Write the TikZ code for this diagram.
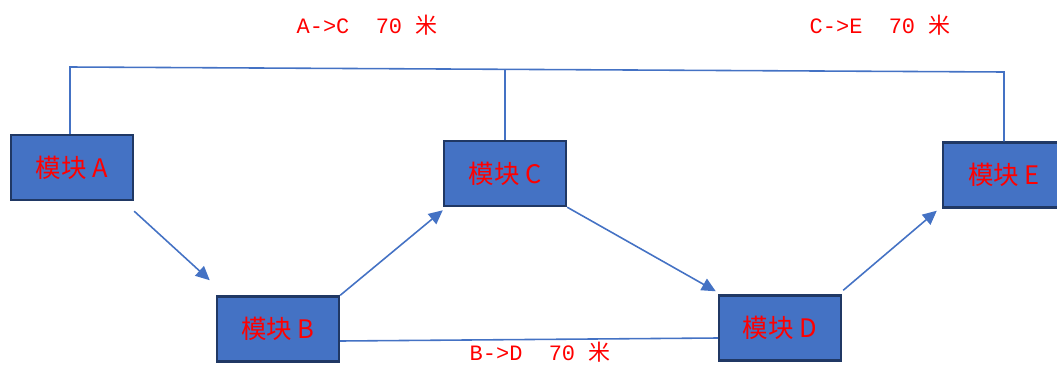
\documentclass[tikz,border=0pt]{standalone}
\usepackage{fontspec}
\newfontfamily\cjk{Noto Sans CJK SC}
\newfontfamily\labmono{Liberation Mono}
\usepackage{tikz}
\usetikzlibrary{arrows.meta,calc}
\usepackage{xcolor}
\definecolor{ModBlue}{HTML}{4472C4}
\definecolor{ModEdge}{HTML}{203864}
\definecolor{LinkBlue}{HTML}{4472C4}
\definecolor{DistRed}{HTML}{FF0000}

\begin{document}
\begin{tikzpicture}[x=0.02cm,y=-0.02cm,
  module/.style={draw=ModEdge,line width=1.4pt,fill=ModBlue,minimum width=2.44cm,minimum height=1.3cm,inner sep=0pt,text=DistRed,font=\cjk\fontsize{14.5}{16}\selectfont},
  link/.style={draw=LinkBlue,line width=0.9pt},
  flow/.style={link,-{Triangle[length=2.8mm,width=2.6mm]}},
  dist/.style={text=DistRed,font=\labmono\fontsize{12.5}{14}\selectfont}]
\clip (0,0) rectangle (1057,365);
% modules
\node[module] (A) at (72,167.5) {模块 A};
\node[module] (B) at (278,329) {模块 B};
\node[module] (C) at (505,173.5) {模块 C};
\node[module] (D) at (780,328) {模块 D};
\node[module] (E) at (1004,175) {模块 E};
% top distance line
\coordinate (ta) at (70,67);
\coordinate (tc) at (505,69.3);
\coordinate (te) at (1004,72);
\draw[link] (A.north -| ta) -- (ta) -- (te) -- (E.north);
\draw[link] (C.north) -- (tc);
% bottom distance line
\draw[link] ($(B.east)+(0,12)$) -- ($(D.west)+(0,10)$);
% flow arrows
\draw[flow] ($(A.south east)+(0,10)$) -- ($(B.north west)+(-6,-15)$);
\draw[flow] (B.north east) -- ($(C.south west)+(0,3)$);
\draw[flow] (C.south east) -- ($(D.north west)+(-2,-3)$);
\draw[flow] ($(D.north east)+(1,-4)$) -- ($(E.south west)+(-5,2)$);
% distances
\node[dist] (ac) at (367,25) {A->C\ \ 70 {\cjk 米}};
\node[dist] (ce) at (880,25) {C->E\ \ 70 {\cjk 米}};
\node[dist] (bd) at (540,352) {B->D\ \ 70 {\cjk 米}};
\end{tikzpicture}
\end{document}
